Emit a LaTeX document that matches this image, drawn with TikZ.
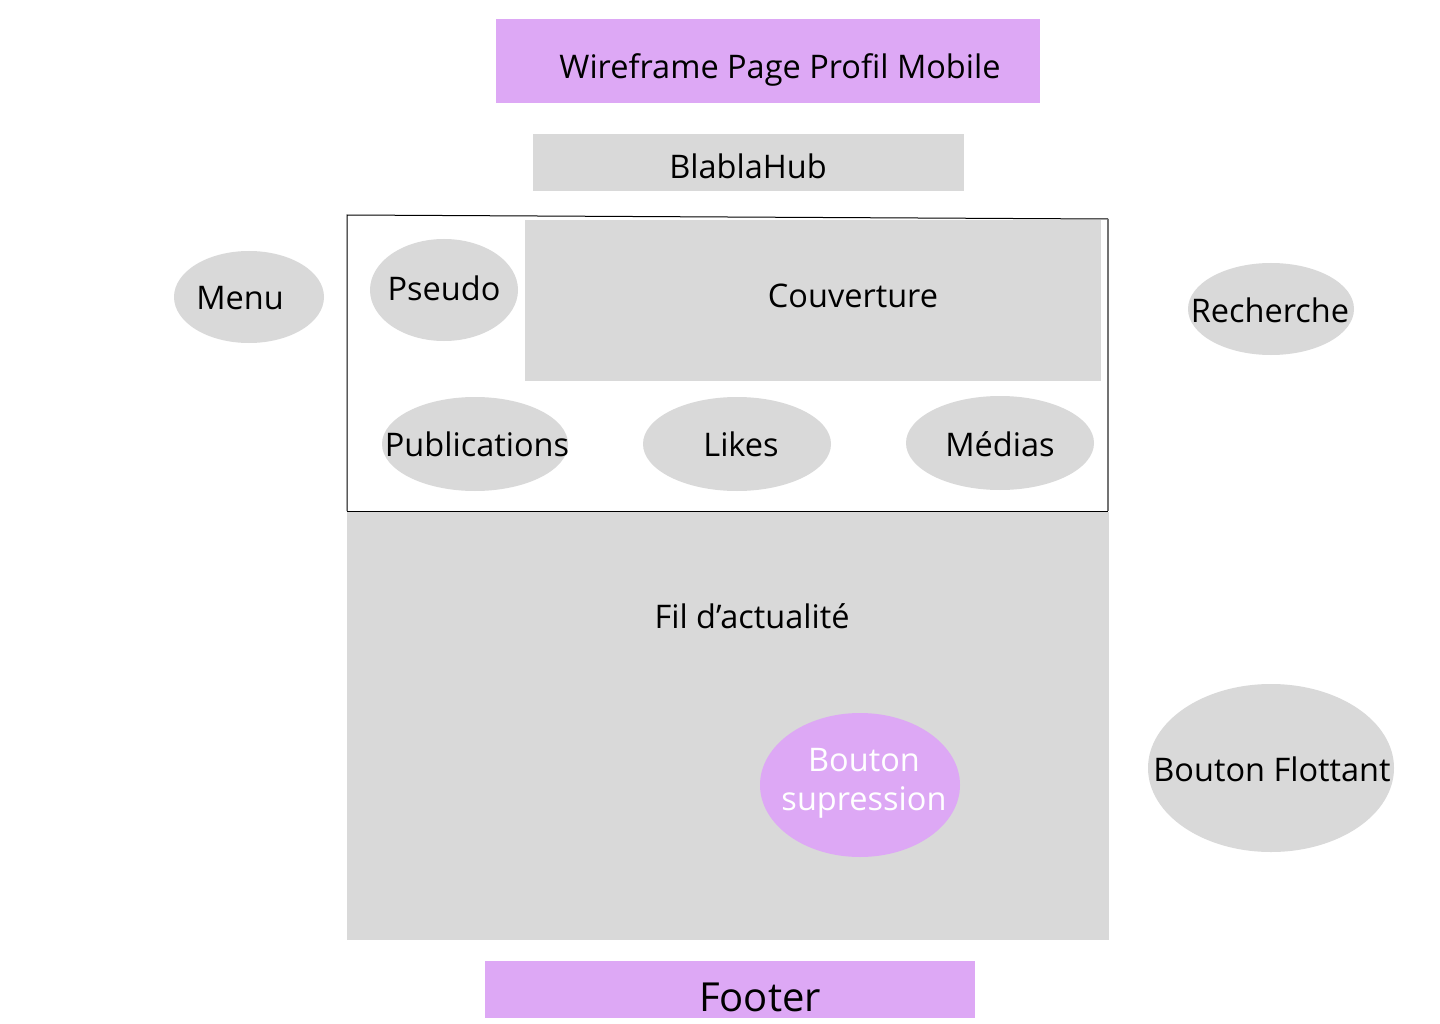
\documentclass[tikz,border=0pt]{standalone}
\usepackage{fontspec}
\setmainfont{Open Sans}
\usepackage{tikz}
\usetikzlibrary{shapes.geometric}

\definecolor{wfpurple}{HTML}{DDA8F5}
\definecolor{wfgrey}{HTML}{D9D9D9}

\begin{document}
\begin{tikzpicture}[x=1pt,y=-1pt,
    box/.style={fill=wfgrey,draw=none,inner sep=0pt},
    mauve/.style={fill=wfpurple,draw=none,inner sep=0pt},
    bulle/.style={ellipse,fill=wfgrey,draw=none,inner sep=0pt},
    lbl/.style={font=\fontsize{32.5}{39}\selectfont,text=black,inner sep=0pt}
  ]
    \useasboundingbox[fill=white] (0,0) rectangle (1440,1024);

    % en-tete
    \node[mauve,minimum width=544pt,minimum height=84pt] (titre) at (768,61) {};
    \node[lbl] (titretxt) at (780,70) {Wireframe Page Profil Mobile};
    \node[box,minimum width=431pt,minimum height=57pt] (logo) at (748.5,162.5) {};
    \node[lbl] (logotxt) at (748,166) {BlablaHub};

    % bloc profil
    \coordinate (hg) at (347,215);
    \coordinate (hd) at (1108,219);
    \coordinate (bg) at (347,511);
    \coordinate (bd) at (1108,511);
    \node[box,minimum width=576pt,minimum height=161pt] (couv) at (813,300.5) {};
    \node[lbl] (couvtxt) at (853,296) {Couverture};
    \node[bulle,minimum width=148pt,minimum height=102pt,
      label={[lbl,yshift=2pt]center:Pseudo}] (pseudo) at (444,290) {};
    \node[bulle,minimum width=186pt,minimum height=94pt,
      label={[lbl,xshift=2pt,yshift=0pt]center:Publications}] (publi) at (475,444) {};
    \node[bulle,minimum width=188pt,minimum height=94pt,
      label={[lbl,xshift=4pt,yshift=0pt]center:Likes}] (likes) at (737,444) {};
    \node[bulle,minimum width=188pt,minimum height=94pt,
      label={[lbl,yshift=-1pt]center:Médias}] (medias) at (1000,443) {};
    \draw[black,line width=1pt] (bg) -- (hg) -- (hd);
    \draw[black!55,line width=1.5pt] (hd) -- (bd);
    \draw[black,line width=1pt] (bg) -- (bd);

    % cotes
    \node[bulle,minimum width=150pt,minimum height=92pt,
      label={[lbl,xshift=-9pt,yshift=-1pt]center:Menu}] (menu) at (249,297) {};
    \node[bulle,minimum width=166pt,minimum height=92pt,
      label={[lbl,xshift=-1pt,yshift=-1pt]center:Recherche}] (recherche) at (1271,309) {};

    % fil
    \node[box,minimum width=762pt,minimum height=428pt] (fil) at (728,726) {};
    \node[lbl] (filtxt) at (752,616) {Fil d’actualité};
    \node[ellipse,mauve,minimum width=200pt,minimum height=144pt,
      label={[lbl,text=white,align=center,font=\fontsize{32.5}{39}\selectfont,xshift=4pt,yshift=2pt]center:Bouton\\supression}]
      (suppr) at (860,785) {};
    \node[bulle,minimum width=246pt,minimum height=168pt,
      label={[lbl,xshift=1pt,yshift=-1pt]center:Bouton Flottant}] (flottant) at (1271,768) {};

    % pied
    \node[mauve,minimum width=490pt,minimum height=57pt] (pied) at (730,989.5) {};
    \node[lbl,font=\fontsize{40}{48}\selectfont] (piedtxt) at (760,997) {Footer};
  \end{tikzpicture}
\end{document}
